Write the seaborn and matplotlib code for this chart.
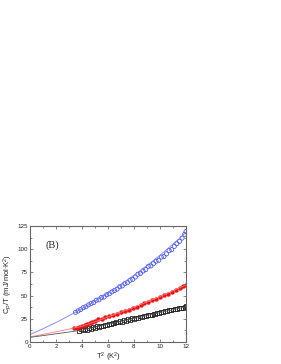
import matplotlib
matplotlib.use("Agg")
import matplotlib.pyplot as plt
import seaborn as sns
import pandas as pd
from matplotlib.ticker import MultipleLocator

# ---------------- data ----------------
blue_t2 = [3.5, 3.7, 3.9, 4.1, 4.3, 4.5, 4.7, 4.9, 5.1, 5.3, 5.5, 5.7, 5.9, 6.1, 6.3,
           6.5, 6.7, 6.9, 7.1, 7.3, 7.5, 7.7, 7.9, 8.1, 8.3, 8.5, 8.7, 8.9, 9.1, 9.3,
           9.5, 9.7, 9.9, 10.1, 10.3, 10.5, 10.7, 10.9, 11.1, 11.3, 11.5, 11.7, 11.9, 12.0]
blue_cp = [32.0, 33.5, 35.0, 37.0, 38.0, 40.0, 41.5, 42.5, 45.0, 45.5, 48.0, 48.5, 51.0, 52.0, 54.0,
           55.5, 57.0, 59.5, 60.5, 63.0, 64.0, 66.5, 67.5, 70.0, 73.0, 74.0, 76.5, 78.0, 81.5, 82.0,
           84.5, 87.0, 88.0, 91.5, 92.0, 95.0, 98.5, 99.5, 103.0, 106.0, 108.5, 112.0, 116.0, 119.0]

red_t2 = [3.4, 3.6, 3.8, 4.0, 4.2, 4.4, 4.6, 4.8, 5.0, 5.2, 5.5, 5.8, 6.1, 6.4, 6.7, 7.0, 7.3,
          7.6, 7.9, 8.2, 8.5, 8.8, 9.1, 9.4, 9.7, 10.0, 10.3, 10.6, 10.9, 11.2, 11.5, 11.8, 12.0]
red_cp = [15.0, 15.5, 16.0, 17.5, 18.0, 19.5, 20.0, 22.0, 22.5, 24.5, 25.0, 26.5, 27.5, 29.5, 30.5,
          32.0, 33.5, 35.0, 36.5, 38.0, 40.0, 41.5, 43.0, 45.0, 46.5, 48.5, 50.5, 52.0, 54.0, 56.0,
          58.0, 60.0, 61.5]

black_t2 = [3.8, 3.95, 4.1, 4.25, 4.4, 4.55, 4.7, 4.85, 5.0, 5.15, 5.3, 5.45, 5.6, 5.75, 5.9,
            6.05, 6.2, 6.35, 6.5, 6.65, 6.8, 6.95, 7.1, 7.25, 7.4, 7.55, 7.7, 7.85, 8.0, 8.15,
            8.3, 8.45, 8.6, 8.75, 8.9, 9.05, 9.2, 9.35, 9.5, 9.65, 9.8, 9.95, 10.1, 10.25, 10.4,
            10.55, 10.7, 10.85, 11.0, 11.15, 11.3, 11.45, 11.6, 11.75, 11.9, 12.0]
black_cp = [11.5, 13.5, 12.5, 14.0, 13.0, 15.0, 14.5, 16.0, 15.0, 17.0, 16.0, 17.5, 17.0, 18.5, 18.0,
            19.5, 19.0, 20.5, 20.0, 21.5, 21.0, 22.5, 22.0, 23.5, 23.0, 24.5, 24.0, 25.5, 25.0, 26.0,
            26.0, 27.5, 27.0, 28.0, 28.0, 29.0, 29.5, 29.5, 30.5, 30.5, 31.5, 31.0, 32.5, 32.0, 33.5,
            33.0, 34.0, 34.5, 35.0, 35.5, 35.5, 36.5, 37.0, 37.0, 38.0, 38.5]

fit_t2 = [0, 1, 2, 3, 4, 5, 6, 7, 8, 9, 10, 11, 12]
blue_fit = [8.0, 14.3, 21.0, 28.3, 36.0, 44.0, 53.0, 62.0, 72.0, 82.5, 93.5, 105.5, 118.0]
red_fit = [5.5, 8.2, 11.0, 13.9, 17.0, 21.8, 27.0, 32.2, 37.5, 43.2, 49.0, 55.2, 61.5]
black_fit = [5.0, 6.9, 8.8, 10.8, 12.8, 15.9, 19.0, 22.1, 25.3, 28.5, 31.7, 34.8, 38.0]

x_ticks = [0, 2, 4, 6, 8, 10, 12]
y_ticks = [0, 25, 50, 75, 100, 125]

# ---------------- plot ----------------
sns.set_style("ticks")
plt.rcParams["font.family"] = ["Liberation Sans", "DejaVu Sans"]
plt.rcParams["mathtext.fontset"] = "custom"
plt.rcParams["mathtext.rm"] = "Liberation Sans"
plt.rcParams["mathtext.it"] = "Liberation Sans"

fig = plt.figure(figsize=(2.81, 3.64), dpi=100)
ax = fig.add_axes([30 / 281, 22 / 364, 156 / 281, 116 / 364])

fits = pd.DataFrame({"t2": fit_t2, "blue": blue_fit, "red": red_fit, "black": black_fit})
sns.lineplot(data=fits, x="t2", y="blue", ax=ax, color="#7a7aff", lw=0.6)
sns.lineplot(data=fits, x="t2", y="red", ax=ax, color="#ff7a7a", lw=0.6)
sns.lineplot(data=fits, x="t2", y="black", ax=ax, color="#555555", lw=0.6)

sns.scatterplot(x=black_t2, y=black_cp, ax=ax, marker="s", s=8, facecolor="none",
                edgecolor="#222222", linewidth=0.6)
sns.scatterplot(x=red_t2, y=red_cp, ax=ax, marker="o", s=8, color="#ee1111",
                edgecolor="#ee1111", linewidth=0.3)
sns.scatterplot(x=blue_t2, y=blue_cp, ax=ax, marker="o", s=9, facecolor="none",
                edgecolor="#4a5ae8", linewidth=0.6)

ax.set_xlim(0, 12)
ax.set_ylim(0, 125)
ax.set_xticks(x_ticks)
ax.set_yticks(y_ticks)
ax.xaxis.set_minor_locator(MultipleLocator(1))
ax.yaxis.set_minor_locator(MultipleLocator(12.5))
ax.tick_params(which="both", direction="in", top=True, right=True, labelsize=4.5,
               color="#555555", pad=1.5)
ax.tick_params(which="major", length=2.5, width=0.5)
ax.tick_params(which="minor", length=1.5, width=0.5)
for sp in ax.spines.values():
    sp.set_color("#666666")
    sp.set_linewidth(0.8)

ax.set_xlabel("T$^2$ (K$^2$)", fontsize=5.5, labelpad=1)
ax.set_ylabel("C$_P$/T (mJ/mol$\\cdot$K$^2$)", fontsize=5.5, labelpad=2)
ax.text(1.7, 104, "(B)", fontsize=7.5, family=["Liberation Serif", "DejaVu Serif"],
        ha="center", va="center")

fig.savefig("out.png", dpi=100)
